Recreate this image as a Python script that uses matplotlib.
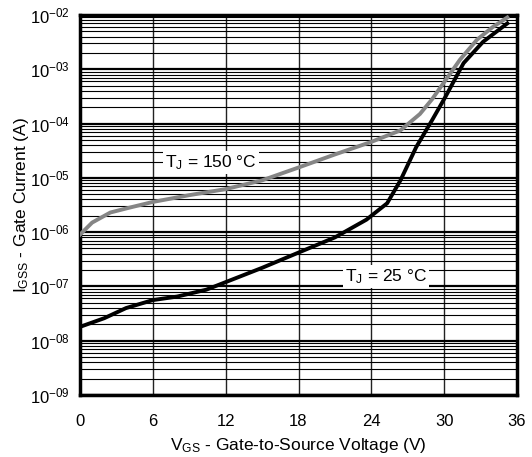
import numpy as np
from matplotlib import pyplot as plt
from matplotlib.ticker import LogLocator

plt.rcParams['font.family'] = ['Liberation Sans', 'DejaVu Sans']
plt.rcParams['mathtext.default'] = 'regular'

# T_J = 150 C curve (grey)
v_hot = [0, 1, 2.5, 4, 6, 9, 12, 15, 18, 21, 24, 26.4, 28, 29, 30, 31.3, 32.7, 34, 35.2]
i_hot = [9e-7, 1.5e-6, 2.3e-6, 2.8e-6, 3.6e-6, 4.8e-6, 6.2e-6, 9e-6, 1.55e-5, 2.7e-5, 4.6e-5,
         7.5e-5, 1.5e-4, 2.8e-4, 5.8e-4, 1.5e-3, 3.5e-3, 6e-3, 9e-3]

# T_J = 25 C curve (black)
v_room = [0, 2, 3.8, 6, 8, 10.4, 12, 15, 18, 21, 23.6, 25.3, 26.4, 27.7, 29, 30.1, 31.6, 33.2, 35.2]
i_room = [1.8e-8, 2.6e-8, 4e-8, 5.6e-8, 6.5e-8, 8.7e-8, 1.2e-7, 2.2e-7, 4.2e-7, 8e-7, 1.7e-6,
          3.4e-6, 9e-6, 3.7e-5, 1.15e-4, 3.1e-4, 1.3e-3, 3.2e-3, 7e-3]

x_ticks = [0, 6, 12, 18, 24, 30, 36]
y_ticks = [1e-9, 1e-8, 1e-7, 1e-6, 1e-5, 1e-4, 1e-3, 1e-2]
y_labels = ['$10^{-09}$', '$10^{-08}$', '$10^{-07}$', '$10^{-06}$',
            '$10^{-05}$', '$10^{-04}$', '$10^{-03}$', '$10^{-02}$']

fig = plt.figure(figsize=(5.32, 4.57), dpi=100)
ax = fig.add_axes([80 / 532, 1 - 395 / 457, 437 / 532, 380 / 457])
ax.set_yscale('log')
ax.set_xlim(0, 36)
ax.set_ylim(1e-9, 1e-2)

ax.set_xticks(x_ticks)
ax.set_yticks(y_ticks)
ax.set_yticklabels(y_labels)
ax.yaxis.set_minor_locator(LogLocator(base=10, subs=np.arange(2, 10)))
ax.yaxis.set_minor_formatter(plt.NullFormatter())

ax.grid(True, which='major', axis='y', color='black', linewidth=1.6)
ax.grid(True, which='minor', axis='y', color='black', linewidth=0.8)
ax.grid(True, which='major', axis='x', color='#222222', linewidth=1.0)
ax.tick_params(which='both', length=0, labelsize=12)
ax.tick_params(axis='x', pad=14)
ax.tick_params(axis='y', pad=7)

for s in ax.spines.values():
    s.set_linewidth(2.5)

ax.plot(v_hot, i_hot, color='#858585', linewidth=2.8, zorder=3)
ax.plot(v_room, i_room, color='black', linewidth=2.8, zorder=3)

ax.text(10.8, 1.9e-5, 'T$_J$ = 150 °C', fontsize=12.5, ha='center', va='center',
        bbox=dict(facecolor='white', edgecolor='none', pad=1.5), zorder=4)
ax.text(25.2, 1.5e-7, 'T$_J$ = 25 °C', fontsize=12.5, ha='center', va='center',
        bbox=dict(facecolor='white', edgecolor='none', pad=1.5), zorder=4)

ax.set_xlabel('V$_{GS}$ - Gate-to-Source Voltage (V)', fontsize=12.5)
ax.set_ylabel('I$_{GSS}$ - Gate Current (A)', fontsize=12.5)
ax.xaxis.set_label_coords(0.5, -0.108)
ax.yaxis.set_label_coords(-0.112, 0.5)

fig.savefig('out.png', dpi=100)
